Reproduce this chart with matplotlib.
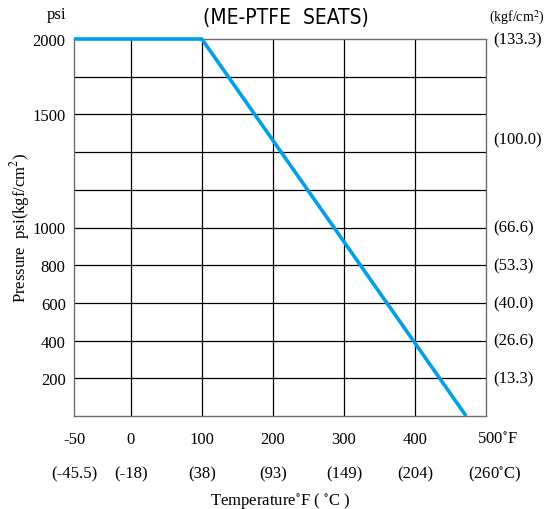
import numpy as np
import matplotlib
matplotlib.use("Agg")
import matplotlib.pyplot as plt

# pressure/temperature rating
temp_f = [-50, 100, 472]
pressure_psi = [2000, 2000, 0]

x_ticks_f = [-50, 0, 100, 200, 300, 400, 500]
x_labels_f = ["-50", "0", "100", "200", "300", "400", "500$^{\\circ}$F"]
x_labels_c = ["(-45.5)", "(-18)", "(38)", "(93)", "(149)", "(204)", "(260$^{\\circ}$C)"]

y_ticks_psi = [200, 400, 600, 800, 1000, 1500, 2000]
y_ticks_kgf = [200, 400, 600, 800, 1000, 1390, 2000]
y_labels_kgf = ["(13.3)", "(26.6)", "(40.0)", "(53.3)", "(66.6)", "(100.0)", "(133.3)"]

# the chart's axes are not linear: map values onto grid units
x_src, x_dst = [-50, 0, 500], [-0.8, 0, 5]
y_src, y_dst = [0, 1000, 1500, 2000], [0, 5, 8, 10]


def fwd_x(v):
    return np.interp(v, x_src, x_dst)


def inv_x(v):
    return np.interp(v, x_dst, x_src)


def fwd_y(v):
    return np.interp(v, y_src, y_dst)


def inv_y(v):
    return np.interp(v, y_dst, y_src)


plt.rcParams["font.family"] = ["Liberation Serif", "DejaVu Serif"]
plt.rcParams["mathtext.fontset"] = "stix"

fig = plt.figure(figsize=(5.47, 5.10), dpi=100)
ax = fig.add_axes([74 / 547, 93 / 510, 412 / 547, 377 / 510])
ax.set_xscale("function", functions=(fwd_x, inv_x))
ax.set_yscale("function", functions=(fwd_y, inv_y))
ax.set_xlim(-50, 500)
ax.set_ylim(0, 2000)

# grid lines, one per grid unit
for u in range(0, 5):
    ax.axvline(inv_x(u), color="black", lw=0.9, zorder=1)
for u in range(1, 10):
    ax.axhline(inv_y(u), color="black", lw=0.9, zorder=1)

ax.plot(temp_f, pressure_psi, color="#00a0e9", lw=2.6, zorder=3,
        solid_capstyle="butt", clip_on=False)

for s in ax.spines.values():
    s.set_color("#6e6e6e")
    s.set_linewidth(1.0)

ax.set_yticks(y_ticks_psi)
ax.set_yticklabels([str(v) for v in y_ticks_psi], fontsize=12)
ax.tick_params(axis="y", length=0, pad=6)
ax.set_xticks([])

# right-hand kgf/cm2 labels
ytrans = ax.get_yaxis_transform()
for yv, lab in zip(y_ticks_kgf, y_labels_kgf):
    ax.annotate(lab, (1, yv), xycoords=ytrans, xytext=(5, 0),
                textcoords="offset points", ha="left", va="center", fontsize=12)

trans = ax.get_xaxis_transform()
for xv, lf, lc in zip(x_ticks_f, x_labels_f, x_labels_c):
    last = lf.startswith("500")
    ax.annotate(lf, (xv, 0), xycoords=trans, xytext=(8 if last else 0, -16.5),
                textcoords="offset points", ha="center", va="center", fontsize=12)
    ax.annotate(lc, (xv, 0), xycoords=trans, xytext=(6 if last else 0, -41.5),
                textcoords="offset points", ha="center", va="center", fontsize=12)

fig.text(280 / 547, 1 - 501 / 510, "Temperature$^{\\circ}$F ( $^{\\circ}$C )",
         ha="center", va="center", fontsize=12)
fig.text(20 / 547, 1 - 228 / 510, "Pressure  psi(kgf/cm$^{2}$)",
         ha="center", va="center", rotation=90, fontsize=12)
fig.text(66 / 547, 1 - 15 / 510, "psi", ha="right", va="center", fontsize=12)
fig.text(517 / 547, 1 - 18 / 510, "(kgf/cm$^{2}$)", ha="center", va="center", fontsize=10)
fig.text(286 / 547, 1 - 18 / 510, "(ME-PTFE  SEATS)", ha="center", va="center",
         fontsize=15, family="DejaVu Sans", fontstretch="condensed")

fig.savefig("out.png", dpi=100)
